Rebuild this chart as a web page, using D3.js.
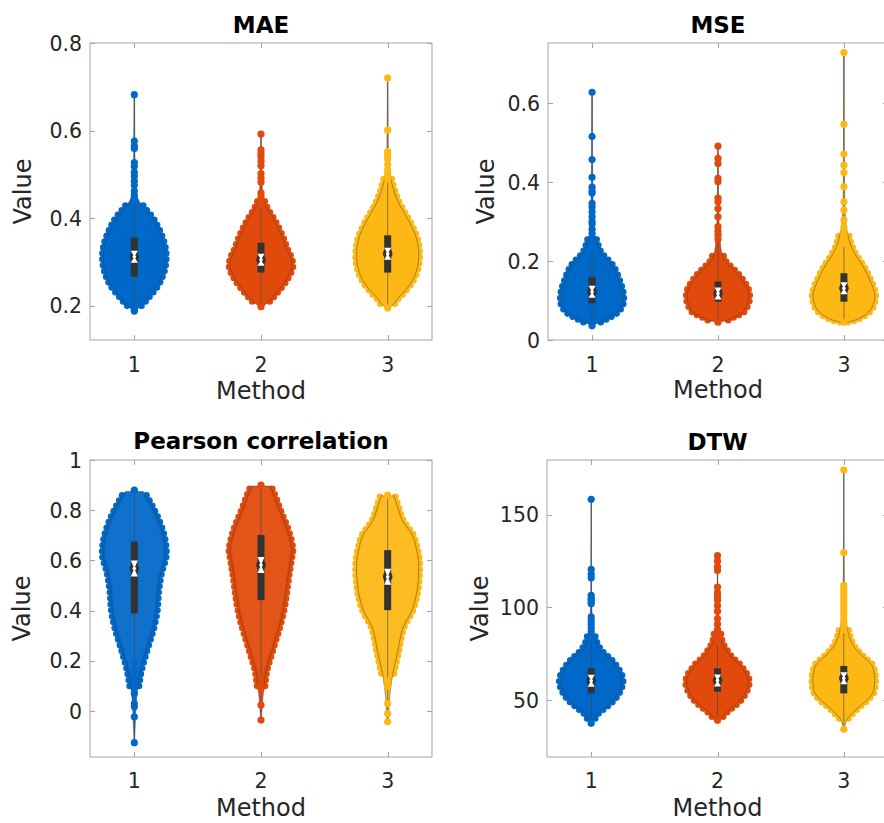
<!DOCTYPE html>
<html><head><meta charset="utf-8">
<script src="https://cdn.jsdelivr.net/npm/d3@7"></script>
<style>body{margin:0;background:#fff;overflow:hidden}svg{display:block;font-family:"DejaVu Sans",sans-serif}</style>
</head><body>
<script>
// ---------------- data ----------------
const categories = [1, 2, 3];
const panelTitles = ["MAE", "MSE", "Pearson correlation", "DTW"];
const xLabel = "Method";
const yLabel = "Value";

const maeTicks = [0.2, 0.4, 0.6, 0.8];
const mseTicks = [0, 0.2, 0.4, 0.6];
const pearsonTicks = [0, 0.2, 0.4, 0.6, 0.8, 1];
const dtwTicks = [50, 100, 150];
const yLimits = [[0.122, 0.8], [0, 0.752], [-0.183, 1], [19.2, 179.7]];

// violin outlines: [value, relative density]
const maeProfiles = [
  [[0.188,0.05],[0.20,0.2],[0.22,0.45],[0.25,0.77],[0.28,0.94],[0.31,1.0],[0.34,0.95],[0.37,0.8],[0.40,0.58],[0.42,0.35],[0.44,0.15],[0.46,0.06],[0.50,0.03],[0.58,0.015],[0.682,0.01]],
  [[0.198,0.05],[0.21,0.25],[0.23,0.5],[0.26,0.82],[0.29,1.0],[0.31,0.95],[0.33,0.82],[0.35,0.72],[0.37,0.6],[0.40,0.38],[0.42,0.2],[0.44,0.08],[0.47,0.04],[0.52,0.02],[0.592,0.01]],
  [[0.195,0.05],[0.205,0.2],[0.215,0.3],[0.23,0.5],[0.245,0.68],[0.27,0.88],[0.30,0.99],[0.32,1.0],[0.34,0.97],[0.36,0.9],[0.38,0.78],[0.40,0.63],[0.42,0.47],[0.44,0.32],[0.47,0.17],[0.49,0.1],[0.52,0.05],[0.56,0.025],[0.72,0.01]]
];
const mseProfiles = [
  [[0.038,0.05],[0.045,0.25],[0.055,0.5],[0.068,0.78],[0.085,0.95],[0.105,1.0],[0.125,0.97],[0.15,0.87],[0.17,0.77],[0.19,0.64],[0.21,0.4],[0.22,0.28],[0.24,0.17],[0.26,0.1],[0.30,0.05],[0.36,0.03],[0.45,0.015],[0.627,0.01]],
  [[0.045,0.05],[0.05,0.3],[0.06,0.55],[0.07,0.8],[0.09,0.95],[0.11,1.0],[0.13,0.95],[0.15,0.8],[0.17,0.6],[0.185,0.4],[0.20,0.22],[0.22,0.12],[0.25,0.07],[0.28,0.04],[0.35,0.02],[0.491,0.01]],
  [[0.045,0.1],[0.05,0.35],[0.06,0.62],[0.075,0.85],[0.095,0.97],[0.115,1.0],[0.135,0.93],[0.155,0.82],[0.175,0.7],[0.195,0.55],[0.215,0.38],[0.24,0.22],[0.27,0.12],[0.30,0.06],[0.35,0.03],[0.45,0.015],[0.728,0.01]]
];
const pearsonProfiles = [
  [[-0.126,0.01],[-0.05,0.03],[0.03,0.06],[0.10,0.12],[0.16,0.2],[0.22,0.33],[0.27,0.45],[0.33,0.6],[0.40,0.71],[0.48,0.76],[0.55,0.85],[0.62,1.0],[0.69,0.95],[0.75,0.8],[0.80,0.62],[0.84,0.45],[0.875,0.29]],
  [[-0.036,0.01],[0.0,0.03],[0.05,0.06],[0.10,0.1],[0.16,0.16],[0.22,0.3],[0.27,0.42],[0.33,0.57],[0.40,0.71],[0.47,0.8],[0.535,0.87],[0.60,0.95],[0.64,1.0],[0.68,0.95],[0.74,0.8],[0.80,0.6],[0.85,0.45],[0.896,0.3]],
  [[-0.043,0.02],[0.0,0.04],[0.06,0.07],[0.15,0.17],[0.24,0.33],[0.30,0.42],[0.34,0.52],[0.40,0.78],[0.45,0.9],[0.50,0.97],[0.59,1.0],[0.65,0.92],[0.70,0.8],[0.76,0.47],[0.81,0.33],[0.857,0.21]]
];
const dtwProfiles = [
  [[37.5,0.03],[40,0.1],[43,0.22],[46,0.45],[50,0.72],[55,0.92],[60,1.0],[64,0.95],[67,0.85],[70,0.72],[73,0.55],[76,0.35],[80,0.18],[85,0.09],[90,0.05],[100,0.02],[120,0.01],[158.5,0.005]],
  [[39,0.05],[41,0.15],[44,0.32],[47,0.55],[50,0.74],[55,0.93],[60,1.0],[64,0.92],[67,0.8],[70,0.66],[73,0.45],[77,0.28],[81,0.14],[86,0.08],[91,0.05],[100,0.02],[128,0.005]],
  [[34.5,0.02],[37,0.05],[40,0.12],[43,0.28],[46,0.47],[50,0.75],[54,0.94],[58,0.99],[62,1.0],[66,0.96],[69,0.9],[72,0.72],[75,0.52],[79,0.32],[83,0.2],[88,0.12],[95,0.07],[105,0.03],[130,0.01],[174.3,0.005]]
];

// box stats: [q1, median, q3, min, max]
const maeBox = [[0.266,0.312,0.356,0.188,0.682],[0.276,0.305,0.344,0.198,0.592],[0.276,0.319,0.361,0.195,0.72]];
const mseBox = [[0.093,0.122,0.16,0.038,0.627],[0.097,0.118,0.148,0.045,0.491],[0.097,0.131,0.169,0.045,0.728]];
const pearsonBox = [[0.389,0.568,0.675,-0.126,0.88],[0.442,0.582,0.701,-0.036,0.9],[0.402,0.535,0.641,-0.043,0.86]];
const dtwBox = [[53.6,60.4,67.1,37.4,158.5],[54.5,60.5,67.1,39,128],[53.6,61.7,68.4,34.2,174.3]];

// individual points visible outside the dense body
const maeTails = [
  [0.682,0.576,0.565,0.559,0.527,0.518,0.505,0.496,0.485,0.475,0.462,0.452,0.443,0.188,0.19],
  [0.592,0.556,0.548,0.540,0.530,0.520,0.502,0.492,0.482,0.458,0.450,0.440,0.430,0.198],
  [0.72,0.601,0.552,0.545,0.535,0.522,0.51,0.50,0.49,0.195]
];
const mseTails = [
  [0.627,0.515,0.457,0.412,0.387,0.378,0.372,0.346,0.337,0.325,0.312,0.30,0.294,0.28,0.27,0.26,0.25,0.24,0.036],
  [0.491,0.460,0.447,0.409,0.401,0.359,0.350,0.333,0.312,0.287,0.275,0.265,0.255,0.045],
  [0.728,0.546,0.471,0.443,0.424,0.388,0.35,0.329,0.304,0.285,0.27,0.255,0.245,0.045]
];
const pearsonTails = [
  [0.88,-0.126,-0.023,0.017,0.03,0.07,0.10,0.13,0.16,0.19],
  [0.90,-0.036,0.024,0.09,0.10,0.13],
  [0.86,-0.043,-0.01,0.03,0.10,0.12]
];
const dtwTails = [
  [158.5,120.6,118,116,106.5,105,104,103,102,95,93,91,89,87,85,83,37.4],
  [128,125,122,120,111,108,106,104,101,98,94,91,88,86,84,82,39],
  [174.3,129.6,112,110,108,106,104,102,100,98,96,94,92,90,88,34.2]
];

// ---------------- drawing ----------------
const W = 884, H = 823;
const colors = ["#0068C9", "#E24A0B", "#FDB813"];
const textColor = "#262626";
const axisColor = "#a3a3a3";

const panels = [
  {title: panelTitles[0], ticks: maeTicks, fmt: d => d3.format(".1f")(d), lim: yLimits[0], prof: maeProfiles, box: maeBox, tails: maeTails,
   x0: 90, x1: 432, y0: 43, y1: 340, titleY: 33, tickY: 372, labY: 399, valX: 31, fill: 1, notch: 6},
  {title: panelTitles[1], ticks: mseTicks, fmt: d => d === 0 ? "0" : d3.format(".1f")(d), lim: yLimits[1], prof: mseProfiles, box: mseBox, tails: mseTails,
   x0: 548, x1: 888, y0: 43, y1: 340, titleY: 33, tickY: 372, labY: 398, valX: 494, fill: 1, notch: 6},
  {title: panelTitles[2], ticks: pearsonTicks, fmt: d => (d === 0 || d === 1) ? String(d) : d3.format(".1f")(d), lim: yLimits[2], prof: pearsonProfiles, box: pearsonBox, tails: pearsonTails,
   x0: 90, x1: 432, y0: 460, y1: 757, titleY: 449, tickY: 788, labY: 816, valX: 30, fill: 0.94, notch: 8},
  {title: panelTitles[3], ticks: dtwTicks, fmt: d => String(d), lim: yLimits[3], prof: dtwProfiles, box: dtwBox, tails: dtwTails,
   x0: 547, x1: 888, y0: 460, y1: 757, titleY: 450, tickY: 788, labY: 816, valX: 488, fill: 1, notch: 6}
];

const svg = d3.select("body").append("svg").attr("width", W).attr("height", H);

panels.forEach(p => {
  const g = svg.append("g");
  const x = d3.scaleLinear().domain([0.65, 3.35]).range([p.x0, p.x1]);
  const y = d3.scaleLinear().domain(p.lim).range([p.y1, p.y0]);
  const unit = x(2) - x(1);
  const ws = d3.scaleLinear().domain([0, 1]).range([0, 0.245 * unit]);

  // axes box
  g.append("rect").attr("x", p.x0).attr("y", p.y0).attr("width", p.x1 - p.x0).attr("height", p.y1 - p.y0)
    .attr("fill", "none").attr("stroke", axisColor).attr("stroke-width", 1);
  const tl = 5;
  p.ticks.forEach(t => {
    const yy = Math.round(y(t)) + 0.5;
    g.append("line").attr("x1", p.x0).attr("x2", p.x0 + tl).attr("y1", yy).attr("y2", yy).attr("stroke", axisColor);
    g.append("line").attr("x1", p.x1).attr("x2", p.x1 - tl).attr("y1", yy).attr("y2", yy).attr("stroke", axisColor);
    g.append("text").attr("x", p.x0 - 8).attr("y", y(t) + 7.5).attr("text-anchor", "end")
      .attr("font-size", 20.5).attr("fill", textColor).text(p.fmt(t));
  });
  categories.forEach(c => {
    const xx = Math.round(x(c)) + 0.5;
    g.append("line").attr("x1", xx).attr("x2", xx).attr("y1", p.y1).attr("y2", p.y1 - tl).attr("stroke", axisColor);
    g.append("line").attr("x1", xx).attr("x2", xx).attr("y1", p.y0).attr("y2", p.y0 + tl).attr("stroke", axisColor);
    g.append("text").attr("x", x(c)).attr("y", p.tickY).attr("text-anchor", "middle")
      .attr("font-size", 20.5).attr("fill", textColor).text(c);
  });
  g.append("text").attr("x", (p.x0 + p.x1) / 2).attr("y", p.labY).attr("text-anchor", "middle")
    .attr("font-size", 24).attr("fill", textColor).text(xLabel);
  g.append("text").attr("transform", `translate(${p.valX},${(p.y0 + p.y1) / 2}) rotate(-90)`).attr("text-anchor", "middle")
    .attr("font-size", 24).attr("fill", textColor).text(yLabel);
  g.append("text").attr("x", (p.x0 + p.x1) / 2).attr("y", p.titleY).attr("text-anchor", "middle")
    .attr("font-size", 23).attr("font-weight", "bold").attr("fill", "#000").text(p.title);

  // violins
  categories.forEach((c, i) => {
    const cx = x(c);
    const col = colors[i];
    const prof = p.prof[i];
    const body = prof.filter(d => d[1] >= 0.08);
    const area = d3.area().curve(d3.curveCatmullRom)
      .y(d => y(d[0])).x0(d => cx - ws(d[1])).x1(d => cx + ws(d[1]));
    const vg = g.append("g");

    // dense body of points
    vg.append("path").attr("d", area(prof)).attr("fill", col).attr("fill-opacity", p.fill);

    // scalloped edge of points
    [1, -1].forEach(sgn => {
      const edge = d3.line().curve(d3.curveCatmullRom).y(d => y(d[0])).x(d => cx + sgn * (ws(d[1]) + 1));
      const tmp = vg.append("path").attr("d", edge(body)).attr("fill", "none");
      const node = tmp.node();
      const L = node.getTotalLength();
      const pts = [];
      for (let s = 0; s <= L; s += 6) pts.push(node.getPointAtLength(s));
      tmp.remove();
      vg.selectAll(null).data(pts).enter().append("circle")
        .attr("cx", d => d.x).attr("cy", d => d.y).attr("r", 3.3).attr("fill", col);
    });

    // outline
    vg.append("path").attr("d", area(prof)).attr("fill", "none")
      .attr("stroke", "#3a3a3a").attr("stroke-opacity", 0.45).attr("stroke-width", 1);

    // whisker line
    const b = p.box[i];
    vg.append("line").attr("x1", cx).attr("x2", cx).attr("y1", y(b[3])).attr("y2", y(b[4]))
      .attr("stroke", "#444").attr("stroke-opacity", 0.6).attr("stroke-width", 1);

    // individual points
    vg.selectAll(null).data(p.tails[i]).enter().append("circle")
      .attr("cx", cx).attr("cy", d => y(d)).attr("r", 3.6).attr("fill", col);

    // box
    vg.append("rect").attr("x", cx - 3.5).attr("width", 7).attr("y", y(b[2])).attr("height", y(b[0]) - y(b[2]))
      .attr("fill", "#333");
    const ym = y(b[1]), n = p.notch;
    vg.append("circle").attr("cx", cx).attr("cy", ym).attr("r", 4.8).attr("fill", "#333");
    vg.append("path").attr("d", `M${cx - 3.5},${ym - n}L${cx + 3.5},${ym - n}L${cx},${ym}Z M${cx - 3.5},${ym + n}L${cx + 3.5},${ym + n}L${cx},${ym}Z`)
      .attr("fill", "#fff");
    vg.append("circle").attr("cx", cx).attr("cy", ym).attr("r", 1.8).attr("fill", "#fff");
  });
});
</script>
</body></html>
